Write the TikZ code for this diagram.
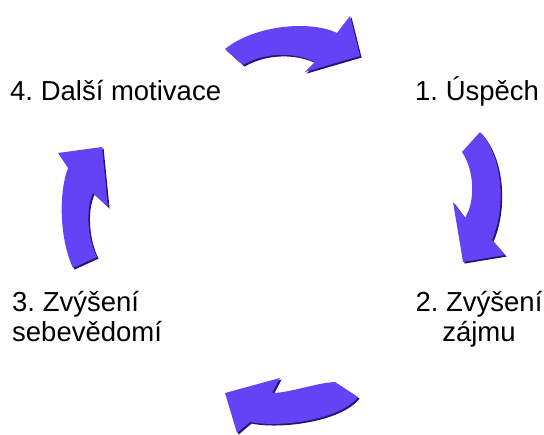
\documentclass[tikz,border=0pt]{standalone}
\usepackage{fontspec}
\setmainfont{Liberation Sans}
\frenchspacing
\definecolor{arrowblue}{RGB}{100,66,245}
\definecolor{arrowdark}{RGB}{40,20,115}
\tikzset{
  arrowbody/.style={fill=arrowblue},
  arrowshade/.style={fill=arrowdark},
  lbl/.style={inner sep=0pt, font=\fontsize{27.5}{30}\selectfont, text=black}
}
\newcommand\cyclearrow[1]{%
  \fill[arrowshade, shift={(1.6,1.6)}] #1;
  \fill[arrowbody] #1;}
\begin{document}
\begin{tikzpicture}[x=1pt,y=-1pt]
\useasboundingbox (0,0) rectangle (544,435);
% top arrow
\cyclearrow{(225,49) .. controls (255,25) and (310,20) .. (337,33) -- (350,16) -- (360,56) -- (305,72) -- (315,62) .. controls (295,52) and (265,52) .. (243,65) -- cycle}
% right arrow
\cyclearrow{(480,132) .. controls (505,160) and (505,210) .. (492,240) -- (505,255) -- (463,262) -- (453,202) -- (465,218) .. controls (476,200) and (474,170) .. (462,152) -- cycle}
% bottom arrow
\cyclearrow{(358,397) .. controls (340,420) and (280,428) .. (250,422) -- (237,433) -- (225,393) -- (280,378) -- (272,393) .. controls (290,393) and (315,383) .. (335,382) -- cycle}
% left arrow
\cyclearrow{(73,268) .. controls (60,240) and (58,195) .. (68,168) -- (58,153) -- (102,147) -- (108,207) -- (93,193) .. controls (85,210) and (88,240) .. (97,257) -- cycle}
% labels
\node[lbl, anchor=base west] (l1) at (415,101) {1. Úspěch};
\node[lbl, anchor=base] (l2a) at (479,312) {2. Zvýšení};
\node[lbl, anchor=base] (l2b) at (479,342) {zájmu};
\node[lbl, anchor=base west] (l3a) at (12,312) {3. Zvýšení};
\node[lbl, anchor=base west] (l3b) at (12,342) {sebevědomí};
\node[lbl, anchor=base west] (l4) at (10,101) {4. Další motivace};
\end{tikzpicture}
\end{document}
